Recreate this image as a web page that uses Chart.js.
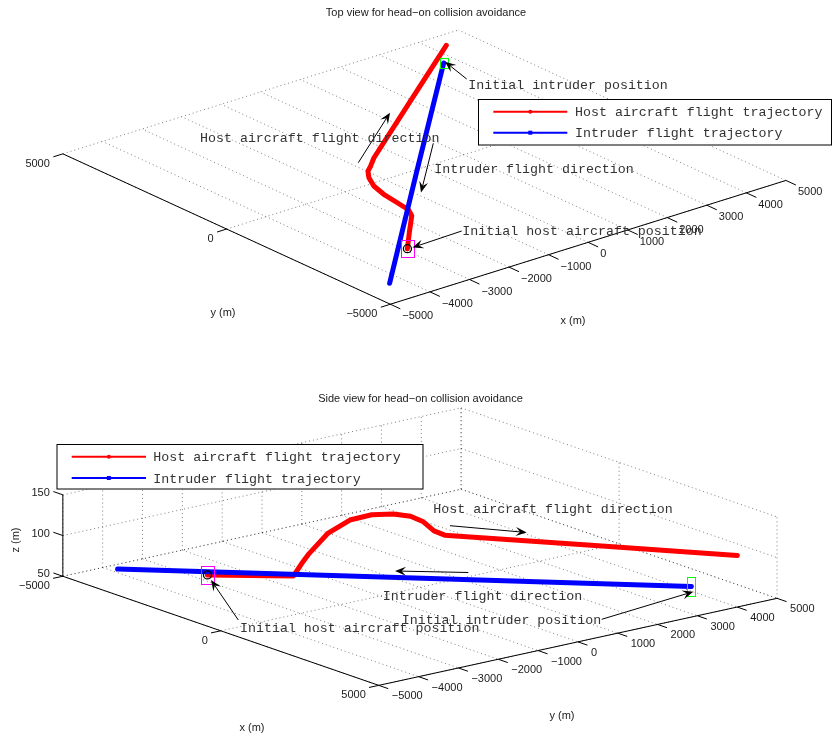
<!DOCTYPE html>
<html>
<head>
<meta charset="utf-8">
<script src="https://cdn.jsdelivr.net/npm/chart.js@4"></script>
<style>
  html, body { margin: 0; padding: 0; background: #fff; }
  #wrap { width: 832px; height: 736px; }
</style>
</head>
<body>
<div id="wrap"><canvas id="fig" width="832" height="736"></canvas></div>
<script>
// Host aircraft trajectory (metres)
const hostX = [-2925, -2355, -1779, -1707, -1635, -1570, -1500, -1377, -1182, -980, -778, -620, -461, 1930, 4316];
const hostY = [-3015, -2386, -1763, -1625, -1487, -1059, -570, -119, 266, 541, 703, 845, 987, 2770, 4545];
const hostZ = [58.2, 58.5, 59.0, 73.0, 85.4, 106.9, 118.6, 121.9, 121.3, 118.3, 112.5, 102.0, 97.3, 97.8, 98.2];

// Intruder trajectory (metres)
const intruderX = [3700, -290, -4324];
const intruderY = [3880, -110, -4162];
const intruderZ = [59, 59, 59];

// Axis limits and ticks
const xLim = [-5000, 5000];
const yLim = [-5000, 5000];
const zLim = [50, 150];
const topXTicks = [-5000, -4000, -3000, -2000, -1000, 0, 1000, 2000, 3000, 4000, 5000];
const topYTicks = [-5000, 0, 5000];
const sideXTicks = [-5000, 0, 5000];
const sideYTicks = [-5000, -4000, -3000, -2000, -1000, 0, 1000, 2000, 3000, 4000, 5000];
const sideZTicks = [50, 100, 150];

const seriesNames = ['Host aircraft flight trajectory', 'Intruder flight trajectory'];

// Orthographic camera for each subplot: box corner (xmin,ymin,zmin) and the screen
// vectors spanned by the full x, y and z ranges.
const views = {
  top:  { o: [390, 303.3], ex: [400.7, -125.6], ey: [-331.7, -152.6], ez: [0, 0] },
  side: { o: [58.3, 579.3], ex: [320, 110.7], ey: [403.4, -88.3], ez: [0, -82.6] }
};

function project(v, x, y, z) {
  const u = (x - xLim[0]) / (xLim[1] - xLim[0]);
  const w = (y - yLim[0]) / (yLim[1] - yLim[0]);
  const s = (z - zLim[0]) / (zLim[1] - zLim[0]);
  return {
    x: v.o[0] + u * v.ex[0] + w * v.ey[0] + s * v.ez[0],
    y: v.o[1] + u * v.ex[1] + w * v.ey[1] + s * v.ez[1]
  };
}

const fmt = v => (v < 0 ? '\u2212' + Math.abs(v) : String(v));

const datasets = [];
const gridStyle = { w: 1, c: 'rgba(0,0,0,0.5)', dash: [1, 3], order: 20 };
const axisStyle = { w: 1, c: '#000', dash: [], order: 15 };

function seg(view, a, b, st) {
  datasets.push({
    data: [project(view, a[0], a[1], a[2]), project(view, b[0], b[1], b[2])],
    showLine: true, pointRadius: 0, borderWidth: st.w, borderColor: st.c,
    borderDash: st.dash, order: st.order, borderCapStyle: 'butt'
  });
}

const [x0, x1] = xLim, [y0, y1] = yLim, [z0, z1] = zLim;

// top view: floor grid and axes
topXTicks.forEach(x => seg(views.top, [x, y0, z0], [x, y1, z0], gridStyle));
topYTicks.forEach(y => seg(views.top, [x0, y, z0], [x1, y, z0], gridStyle));
seg(views.top, [x0, y0, z0], [x1, y0, z0], axisStyle);
seg(views.top, [x0, y0, z0], [x0, y1, z0], axisStyle);

// side view: floor, back walls and axes
sideXTicks.forEach(x => seg(views.side, [x, y0, z0], [x, y1, z0], gridStyle));
sideYTicks.forEach(y => seg(views.side, [x0, y, z0], [x1, y, z0], gridStyle));
sideYTicks.forEach(y => seg(views.side, [x0, y, z0], [x0, y, z1], gridStyle));
sideZTicks.forEach(z => seg(views.side, [x0, y0, z], [x0, y1, z], gridStyle));
sideXTicks.forEach(x => seg(views.side, [x, y1, z0], [x, y1, z1], gridStyle));
sideZTicks.forEach(z => seg(views.side, [x0, y1, z], [x1, y1, z], gridStyle));
seg(views.side, [x0, y0, z0], [x1, y0, z0], axisStyle);
seg(views.side, [x1, y0, z0], [x1, y1, z0], axisStyle);
seg(views.side, [x0, y0, z0], [x0, y0, z1], axisStyle);

function track(view, xs, ys, zs, color, order) {
  datasets.push({
    data: xs.map((x, i) => project(view, x, ys[i], zs[i])),
    showLine: true, pointRadius: 0, borderWidth: 5, borderColor: color,
    borderCapStyle: 'round', borderJoinStyle: 'round', order: order
  });
}
['top', 'side'].forEach(k => {
  track(views[k], hostX, hostY, hostZ, '#ff0000', 6);
  track(views[k], intruderX, intruderY, intruderZ, '#0000ff', 5);
  datasets.push({
    data: [project(views[k], hostX[0], hostY[0], hostZ[0])],
    pointRadius: 4, pointStyle: 'circle', pointBorderColor: '#000',
    pointBackgroundColor: 'rgba(0,0,0,0)', pointBorderWidth: 1.3, order: 1
  });
});

const AX_FONT = '11px "Liberation Sans", Arial, Helvetica, sans-serif';
const TXT_FONT = '13.3px "Liberation Mono", "Courier New", monospace';
const INK = '#1a1a1a';
const NOTE_INK = '#333';

function arrow(ctx, from, to) {
  const dx = to[0] - from[0], dy = to[1] - from[1];
  const len = Math.hypot(dx, dy), ux = dx / len, uy = dy / len;
  const L = 11, W = 4.5;
  ctx.beginPath();
  ctx.moveTo(from[0], from[1]);
  ctx.lineTo(to[0] - ux * L * 0.6, to[1] - uy * L * 0.6);
  ctx.strokeStyle = '#000'; ctx.lineWidth = 1; ctx.stroke();
  ctx.beginPath();
  ctx.moveTo(to[0], to[1]);
  ctx.lineTo(to[0] - ux * L - uy * W, to[1] - uy * L + ux * W);
  ctx.lineTo(to[0] - ux * L * 0.6, to[1] - uy * L * 0.6);
  ctx.lineTo(to[0] - ux * L + uy * W, to[1] - uy * L - ux * W);
  ctx.closePath();
  ctx.fillStyle = '#000'; ctx.fill();
}

function legend(ctx, box, lineX, textX, rowsY) {
  ctx.fillStyle = '#fff';
  ctx.fillRect(box[0], box[1], box[2] - box[0], box[3] - box[1]);
  ctx.strokeStyle = '#000'; ctx.lineWidth = 1;
  ctx.strokeRect(box[0] + 0.5, box[1] + 0.5, box[2] - box[0] - 1, box[3] - box[1] - 1);
  const cols = ['#ff0000', '#0000ff'];
  seriesNames.forEach((name, i) => {
    const y = rowsY[i];
    ctx.beginPath(); ctx.moveTo(lineX[0], y); ctx.lineTo(lineX[1], y);
    ctx.strokeStyle = cols[i]; ctx.lineWidth = 2; ctx.stroke();
    const mx = (lineX[0] + lineX[1]) / 2;
    ctx.fillStyle = cols[i];
    if (i === 0) { ctx.beginPath(); ctx.arc(mx, y, 2, 0, Math.PI * 2); ctx.fill(); }
    else ctx.fillRect(mx - 2, y - 2, 4, 4);
    ctx.fillStyle = NOTE_INK; ctx.font = TXT_FONT; ctx.textAlign = 'left'; ctx.textBaseline = 'middle';
    ctx.fillText(name, textX, y + 1);
  });
}

const decor = {
  id: 'figureDecor',
  beforeDraw(chart) {
    const c = chart.ctx;
    c.save(); c.fillStyle = '#fff'; c.fillRect(0, 0, chart.width, chart.height); c.restore();
  },
  afterDatasetsDraw(chart) {
    const ctx = chart.ctx, sx = chart.scales.x, sy = chart.scales.y;
    const pix = (v, x, y, z) => {
      const p = project(v, x, y, z);
      return [sx.getPixelForValue(p.x), sy.getPixelForValue(p.y)];
    };
    ctx.save();

    // tick marks and tick labels
    function ticks(v, list, at, dir, align, off) {
      list.forEach(t => {
        const p = pix(v, ...at(t));
        ctx.beginPath(); ctx.moveTo(p[0], p[1]); ctx.lineTo(p[0] + dir[0], p[1] + dir[1]);
        ctx.strokeStyle = '#000'; ctx.lineWidth = 1; ctx.stroke();
        ctx.fillStyle = INK; ctx.font = AX_FONT; ctx.textAlign = align; ctx.textBaseline = 'middle';
        ctx.fillText(fmt(t), p[0] + off[0], p[1] + off[1]);
      });
    }
    ticks(views.top, topYTicks, t => [x0, t, z0], [-9.5, 3.0], 'right', [-13, 10]);
    ticks(views.top, topXTicks, t => [t, y0, z0], [10, 4.6], 'left', [12, 12]);
    ticks(views.side, sideXTicks, t => [t, y0, z0], [-9.8, 2.1], 'right', [-13, 10]);
    ticks(views.side, sideYTicks, t => [x1, t, z0], [9.5, 3.3], 'left', [13, 11]);
    ticks(views.side, sideZTicks, t => [x0, y0, t], [-9.5, -3.3], 'right', [-13, -2]);

    // axis labels and titles
    ctx.fillStyle = INK; ctx.font = AX_FONT; ctx.textAlign = 'center'; ctx.textBaseline = 'middle';
    ctx.fillText('y (m)', 223, 313);
    ctx.fillText('x (m)', 573, 321);
    ctx.fillText('x (m)', 252, 728);
    ctx.fillText('y (m)', 562, 716);
    ctx.fillText('Top view for head\u2212on collision avoidance', 426, 12.5);
    ctx.fillText('Side view for head\u2212on collision avoidance', 420.5, 399);
    ctx.save(); ctx.translate(16, 540); ctx.rotate(-Math.PI / 2);
    ctx.fillText('z (m)', 0, 0); ctx.restore();

    // start-point boxes
    function box(v, x, y, z, w, h, col) {
      const p = pix(v, x, y, z);
      ctx.strokeStyle = col; ctx.lineWidth = 1;
      ctx.strokeRect(Math.round(p[0] - w / 2) + 0.5, Math.round(p[1] - h / 2) + 0.5, w, h);
    }
    box(views.top, hostX[0], hostY[0], hostZ[0], 13, 17, '#ff00ff');
    box(views.side, hostX[0], hostY[0], hostZ[0], 13, 18, '#ff00ff');
    box(views.top, intruderX[0], intruderY[0], intruderZ[0], 8, 10, '#00ff00');
    box(views.side, intruderX[0], intruderY[0], intruderZ[0], 8, 19, '#00ff00');

    // annotations
    const notes = [
      { t: 'Initial intruder position', at: [468.3, 85], a: [[466.7, 79], [445, 61.7]] },
      { t: 'Host aircraft flight direction', at: [200, 138], a: [[358.3, 162.7], [390, 112.7]] },
      { t: 'Intruder flight direction', at: [434.3, 169], a: [[433.3, 143.3], [421, 192.5]] },
      { t: 'Initial host aircraft position', at: [462.3, 231.5], a: [[461.7, 231], [412.5, 247.5]] },
      { t: 'Host aircraft flight direction', at: [433.3, 509], a: [[450, 525.7], [526.7, 532.5]] },
      { t: 'Intruder flight direction', at: [382.7, 596], a: [[468.3, 572.5], [395, 571]] },
      { t: 'Initial intruder position', at: [401.7, 620.7], a: [[601.7, 619.3], [693.3, 591.7]] },
      { t: 'Initial host aircraft position', at: [240, 628.3], a: [[238.3, 620], [211, 580]] }
    ];
    notes.forEach(n => {
      arrow(ctx, n.a[0], n.a[1]);
      ctx.fillStyle = NOTE_INK; ctx.font = TXT_FONT; ctx.textAlign = 'left'; ctx.textBaseline = 'middle';
      ctx.fillText(n.t, n.at[0], n.at[1]);
    });

    // legends
    legend(ctx, [478, 99, 832, 145.5], [493.3, 567.3], 575, [111.7, 132.7]);
    legend(ctx, [56.5, 444, 423.5, 489.5], [71.7, 146], 153.3, [456.7, 478]);

    ctx.restore();
  }
};

new Chart(document.getElementById('fig'), {
  type: 'scatter',
  data: { datasets },
  options: {
    responsive: false,
    animation: false,
    events: [],
    layout: { padding: 0 },
    scales: {
      x: { type: 'linear', min: 0, max: 832, display: false },
      y: { type: 'linear', min: 0, max: 736, reverse: true, display: false }
    },
    plugins: { legend: { display: false }, tooltip: { enabled: false }, title: { display: false } },
    elements: { line: { tension: 0 } }
  },
  plugins: [decor]
});
</script>
</body>
</html>
